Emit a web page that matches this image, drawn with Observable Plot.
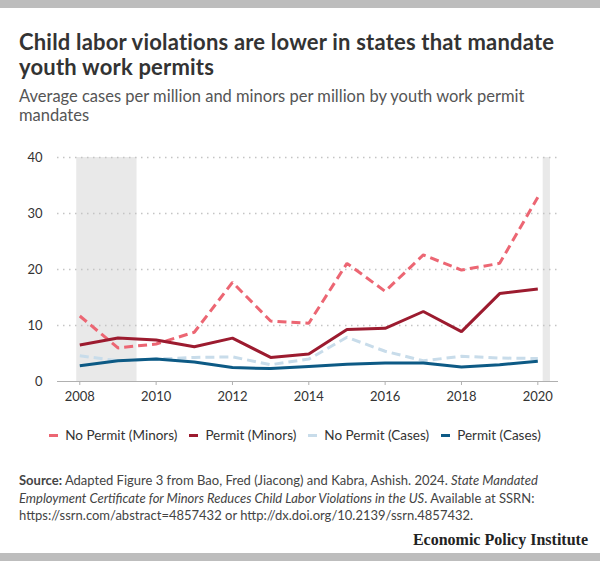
<!DOCTYPE html>
<html>
<head>
<meta charset="utf-8">
<script src="https://cdn.jsdelivr.net/npm/d3@7"></script>
<script src="https://cdn.jsdelivr.net/npm/@observablehq/plot@0.6"></script>
<style>
  html, body { margin: 0; padding: 0; background: #fff; }
  body { width: 600px; height: 561px; position: relative; overflow: hidden; font-family: "Lato", "Open Sans", sans-serif; color: #333; }
  .bar { position: absolute; left: 0; width: 600px; height: 8px; background: #bdbdbd; }
  #title { position: absolute; left: 19px; top: 30px; width: 548px; font-size: 22px; line-height: 24.5px; font-weight: 700; color: #333; letter-spacing: 0.2px; }
  #subtitle { position: absolute; left: 19px; top: 87px; width: 570px; font-size: 16.5px; line-height: 19px; color: #555; }
  #chart { position: absolute; left: 0; top: 140px; }
  #legend { position: absolute; left: 0; top: 427px; width: 600px; display: flex; justify-content: center; gap: 12px; font-size: 13.5px; color: #333; transform: translateX(-5px); }
  .item { display: flex; align-items: center; gap: 7px; }
  .sw { width: 9px; height: 3px; display: inline-block; }
  #source { position: absolute; left: 19px; top: 472px; width: 575px; font-size: 13px; line-height: 17.5px; color: #444; }
  #source div { white-space: nowrap; height: 17.5px; }
  #epi { position: absolute; right: 12px; top: 531px; font-family: "Liberation Serif", "DejaVu Serif", serif; font-weight: 700; font-size: 16px; color: #222; }
</style>
</head>
<body>
<div class="bar" style="top:0"></div>
<div id="title">Child labor violations are lower in states that mandate youth work permits</div>
<div id="subtitle">Average cases per million and minors per million by youth work permit mandates</div>
<div id="chart"></div>
<div id="legend"></div>
<div id="source">
  <div><b>Source:</b> Adapted Figure 3 from Bao, Fred (Jiacong) and Kabra, Ashish. 2024. <i>State Mandated</i></div>
  <div><i>Employment Certificate for Minors Reduces Child Labor Violations in the US</i>. Available at SSRN:</div>
  <div>https://ssrn.com/abstract=4857432 or http://dx.doi.org/10.2139/ssrn.4857432.</div>
</div>
<div id="epi">Economic Policy Institute</div>
<div class="bar" style="top:553px"></div>
<script>
const years = [2008, 2009, 2010, 2011, 2012, 2013, 2014, 2015, 2016, 2017, 2018, 2019, 2020];
const noPermitMinors = [11.7, 6.0, 6.7, 8.8, 17.7, 10.8, 10.4, 21.1, 16.1, 22.6, 19.9, 21.1, 32.9];
const permitMinors   = [6.5, 7.75, 7.4, 6.2, 7.75, 4.3, 4.9, 9.3, 9.5, 12.5, 8.9, 15.7, 16.5];
const noPermitCases  = [4.6, 3.7, 4.0, 4.3, 4.4, 3.0, 4.0, 7.9, 5.4, 3.7, 4.5, 4.2, 4.1];
const permitCases    = [2.8, 3.7, 4.0, 3.5, 2.5, 2.3, 2.7, 3.1, 3.3, 3.3, 2.6, 3.0, 3.6];
const seriesNames = ["No Permit (Minors)", "Permit (Minors)", "No Permit (Cases)", "Permit (Cases)"];
const seriesColors = ["#ec6673", "#9c1b2f", "#c8dcea", "#0d5a85"];
const seriesDashed = [true, false, true, false];
const xTicks = [2008, 2010, 2012, 2014, 2016, 2018, 2020];
const yTicks = [0, 10, 20, 30, 40];
const bandStart = [2007.92, 2020.14];
const bandEnd = [2009.5, 2020.33];

const allSeries = [noPermitMinors, permitMinors, noPermitCases, permitCases];
const data = [];
allSeries.forEach((vals, i) => vals.forEach((v, j) => data.push({series: seriesNames[i], year: years[j], value: v})));
const bands = bandStart.map((s, i) => ({x1: s, x2: bandEnd[i]}));

const lineMarks = seriesNames.map((name, i) => Plot.line(data.filter(d => d.series === name), {
  x: "year", y: "value", stroke: seriesColors[i], strokeWidth: 3,
  strokeDasharray: seriesDashed[i] ? "9,5" : null, strokeLinejoin: "miter", strokeLinecap: "butt"
}));

const chart = Plot.plot({
  width: 600, height: 270,
  marginTop: 17, marginBottom: 29, marginLeft: 57, marginRight: 42,
  style: {fontFamily: "Lato, 'Open Sans', sans-serif", fontSize: "13px", color: "#333", background: "transparent"},
  x: {domain: [2007.416, 2020.542]},
  y: {domain: [0, 40]},
  marks: [
    Plot.rect(bands, {x1: "x1", x2: "x2", y1: 0, y2: 40, fill: "#e9e9e9"}),
    Plot.gridY(yTicks.filter(d => d > 0), {stroke: "#c4c4c4", strokeOpacity: 1, strokeWidth: 1.5, strokeDasharray: "1.5,4.5"}),
    Plot.ruleY([0], {stroke: "#b0b0b0", strokeWidth: 1.2}),
    ...lineMarks,
    Plot.axisX(xTicks, {tickSize: 4, tickPadding: 6, stroke: "#b0b0b0", tickFormat: d => String(d), fontSize: 13, fill: "#333", label: null}),
    Plot.axisY(yTicks, {tickSize: 0, tickPadding: 15, fontSize: 13, fill: "#333", label: null})
  ]
});
document.getElementById("chart").appendChild(chart);

const legend = document.getElementById("legend");
seriesNames.forEach((name, i) => {
  const it = document.createElement("div");
  it.className = "item";
  const sw = document.createElement("span");
  sw.className = "sw";
  sw.style.background = seriesColors[i];
  const t = document.createElement("span");
  t.textContent = name;
  it.appendChild(sw); it.appendChild(t);
  legend.appendChild(it);
});
</script>
</body>
</html>
